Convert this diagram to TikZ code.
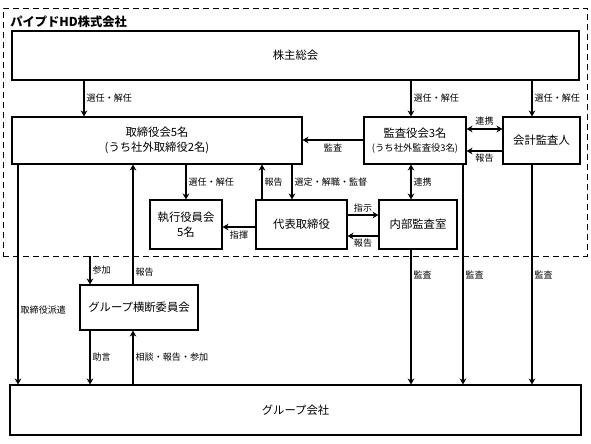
\documentclass[tikz,border=0pt]{standalone}
\usepackage{fontspec}
\setmainfont{Noto Sans CJK JP}
\usetikzlibrary{arrows.meta}
\pgfdeclarelayer{bg}
\pgfsetlayers{bg,main}
\tikzset{
    box/.style={draw, line width=0.8pt, inner sep=0pt, align=center, font=\fontsize{8.5}{11}\selectfont},
    lbl/.style={inner sep=1.5pt, font=\fontsize{6.8}{8}\selectfont},
    arr/.style={line width=1pt, -{Stealth[length=4.5pt,width=5pt,inset=1.5pt]}},
    darr/.style={line width=1pt, {Stealth[length=4.5pt,width=5pt,inset=1.5pt]}-{Stealth[length=4.5pt,width=5pt,inset=1.5pt]}}
}

\begin{document}
\begin{tikzpicture}[x=0.75pt, y=-0.75pt]
    \useasboundingbox (0,0) rectangle (591,443);
    \node (hd) [draw, line width=0.7pt, dash pattern=on 4.5pt off 3pt, minimum width=438pt, minimum height=186pt] at (295,132) {};
    \node (title) [anchor=west, inner sep=0pt, font=\fontsize{9.2}{10}\selectfont\bfseries] at (10,21.5) {パイプドHD株式会社};

    \node (kabu) [box, minimum width=425.25pt, minimum height=36.75pt] at (295.5,55.5) {株主総会};
    \node (torishimari) [box, minimum width=217.5pt, minimum height=35.25pt] at (157,140.5) {取締役会5名\\(うち社外取締役2名)};
    \node (kansa) [box, minimum width=76.5pt, minimum height=35.25pt] at (415,140.5) {監査役会3名\\{\fontsize{7}{9}\selectfont (うち社外監査役3名)}};
    \node (kaikei) [box, minimum width=57.75pt, minimum height=35.25pt] at (541.5,140.5) {会計監査人};
    \node (shikko) [box, minimum width=54pt, minimum height=36.75pt] at (186,224.5) {執行役員会\\5名};
    \node (daihyo) [box, minimum width=68.25pt, minimum height=36.75pt] at (301.5,224.5) {代表取締役};
    \node (naibu) [box, minimum width=58.5pt, minimum height=36.75pt] at (418,224.5) {内部監査室};
    \node (oudan) [box, minimum width=88.5pt, minimum height=33.75pt] at (139,307.5) {グループ横断委員会};
    \node (group) [box, minimum width=428.25pt, minimum height=37.5pt] at (295.5,410) {グループ会社};

    % columns and rows of the connectors
    \coordinate (xA) at (18,0);
    \coordinate (xB) at (84,0);
    \coordinate (xC) at (90,0);
    \coordinate (xD) at (133,0);
    \coordinate (xE) at (186,0);
    \coordinate (xF) at (262,0);
    \coordinate (xG) at (292,0);
    \coordinate (xH) at (411,0);
    \coordinate (xI) at (463,0);
    \coordinate (xJ) at (532,0);
    \coordinate (yA) at (0,129);
    \coordinate (yB) at (0,140);
    \coordinate (yC) at (0,151);
    \coordinate (yD) at (0,215);
    \coordinate (yE) at (0,227);
    \coordinate (yF) at (0,236);

    \begin{pgfonlayer}{bg}
        % shareholders
        \draw[arr] (kabu.south -| xB) -- (torishimari.north -| xB) node[lbl, midway, right] {選任・解任};
        \draw[arr] (kabu.south -| xH) -- (kansa.north -| xH) node[lbl, midway, right] {選任・解任};
        \draw[arr] (kabu.south -| xJ) -- (kaikei.north -| xJ) node[lbl, midway, right] {選任・解任};

        % auditors
        \draw[darr] (kansa.east |- yA) -- (kaikei.west |- yA) node[lbl, midway, above, yshift=1pt] {連携};
        \draw[arr] (kansa.west |- yB) -- (torishimari.east |- yB) node[lbl, midway, below, yshift=-1pt] {監査};
        \draw[arr] (kaikei.west |- yC) -- (kansa.east |- yC) node[lbl, midway, below] {報告};
        \draw[darr] (kansa.south -| xH) -- (naibu.north -| xH) node[lbl, midway, right] {連携};

        % board and executives
        \draw[arr] (torishimari.south -| xE) -- (shikko.north -| xE) node[lbl, midway, right] {選任・解任};
        \draw[arr] (daihyo.north -| xF) -- (torishimari.south -| xF) node[lbl, midway, right] {報告};
        \draw[arr] (torishimari.south -| xG) -- (daihyo.north -| xG) node[lbl, midway, right] {選定・解職・監督};
        \draw[arr] (daihyo.west |- yE) -- (shikko.east |- yE) node[lbl, midway, below, yshift=-1pt] {指揮};
        \draw[arr] (daihyo.east |- yD) -- (naibu.west |- yD) node[lbl, midway, above] {指示};
        \draw[arr] (naibu.west |- yF) -- (daihyo.east |- yF) node[lbl, midway, below] {報告};

        % group companies
        \draw[arr] (torishimari.south -| xA) -- (group.north -| xA) node[lbl, pos=0.66, right] {取締役派遣};
        \draw[arr] (hd.south -| xC) -- (oudan.north -| xC) node[lbl, midway, right] {参加};
        \draw[arr] (oudan.north -| xD) -- (torishimari.south -| xD) node[lbl, pos=0.1, right] {報告};
        \draw[arr] (oudan.south -| xC) -- (group.north -| xC) node[lbl, midway, right] {助言};
        \draw[arr] (group.north -| xD) -- (oudan.south -| xD) node[lbl, midway, right] {相談・報告・参加};
        \draw[arr] (naibu.south -| xH) -- (group.north -| xH) node[lbl, pos=0.19, right] {監査};
        \draw[arr] (kansa.south -| xI) -- (group.north -| xI) node[lbl, midway, right] {監査};
        \draw[arr] (kaikei.south -| xJ) -- (group.north -| xJ) node[lbl, midway, right] {監査};
    \end{pgfonlayer}
\end{tikzpicture}
\end{document}
